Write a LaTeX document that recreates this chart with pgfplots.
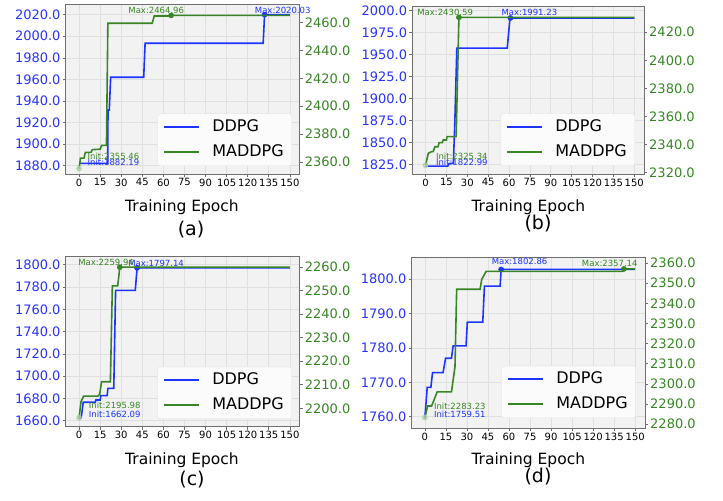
\documentclass[border=0pt]{standalone}
\usepackage{fontspec}
\setmainfont{DejaVu Sans}
\usepackage{pgfplots}
\pgfplotsset{compat=1.18}
\definecolor{ddpg}{RGB}{28,52,255}
\definecolor{madd}{RGB}{55,133,36}
\definecolor{tickblue}{RGB}{40,50,255}
\definecolor{frame}{RGB}{110,110,110}
\pgfplotsset{
  common/.style={scale only axis, xmin=-9.5, xmax=157, clip=false,
    /pgf/number format/assume math mode=true,
    tick align=outside, major tick length=3bp,
    tick style={frame, line width=0.6bp},
    axis line style={frame, line width=0.8bp},
    yticklabel style={font=\fontsize{13bp}{15bp}\selectfont, inner sep=2bp,
      /pgf/number format/fixed, /pgf/number format/fixed zerofill,
      /pgf/number format/precision=1, /pgf/number format/1000 sep={}},
  },
  leftax/.style={common, axis background/.style={fill=gray!10},
    xtick={0,15,...,150}, xtick pos=left, ytick pos=left,
    grid=major, grid style={gray!25, line width=0.6bp},
    xticklabel style={font=\fontsize{10bp}{12bp}\selectfont, inner sep=1.5bp},
    yticklabel style={text=tickblue},
  },
  rightax/.style={common, axis x line=none, axis y line*=right,
    yticklabel style={text=madd},
    legend cell align=left,
    legend image code/.code={\draw[##1, line width=1.8bp] (0bp,0bp) -- (35bp,0bp);},
    legend style={font=\fontsize{16bp}{19bp}\selectfont, draw=gray!25, rounded corners=2.5bp,
      fill=white!97!gray, inner xsep=6bp, inner ysep=4bp,
      row sep=6bp, nodes={inner sep=2bp, text height=12bp, text depth=3bp},
      /tikz/every odd column/.append style={column sep=10bp}},
  },
  bl/.style={ddpg, line width=1.6bp},
  gl/.style={madd, line width=1.6bp},
  mx/.style={only marks, mark=*, mark size=2.6bp, forget plot},
}
\newcommand{\ann}{\fontsize{8.5bp}{10bp}\selectfont}
\begin{document}
\begin{tikzpicture}[x=1bp,y=1bp]
\path[use as bounding box] (0,0) rectangle (723,501);
% ---------------- (a)
\begin{axis}[leftax, at={(65.7bp,327bp)}, anchor=south west, width=234bp, height=170bp,
  ymin=1872.3, ymax=2029.9, ytick={1880,1900,...,2020}]
\addplot[bl] coordinates {(0,1882.19) (20.4,1882.19) (20.6,1931.6) (21.5,1931.6) (22.5,1962) (46,1962) (47,1993.5) (131,1993.5) (132,2020.03) (150,2020.03)};
\addplot[mx, ddpg] coordinates {(132,2020.03)};
\node[anchor=west, inner sep=0, text=ddpg, font=\ann] at (axis cs:6,1883) {Init:1882.19};
\node[anchor=west, inner sep=0, text=ddpg, font=\ann] at (axis cs:125,2024.3) {Max:2020.03};
\end{axis}
\begin{axis}[rightax, at={(65.7bp,327bp)}, anchor=south west, width=234bp, height=170bp,
  ymin=2351.6, ymax=2473.1, ytick={2360,2380,...,2460},
  legend style={at={(0.967,0.047)}, anchor=south east}]
\addlegendimage{bl}\addlegendentry{DDPG}
\addplot[gl] coordinates {(0,2355.46) (1,2362.9) (3.5,2363) (4.5,2367) (8.5,2367) (9.5,2369) (15,2369.3) (16,2372) (19.5,2372) (20.5,2459.3) (52,2459.3) (53.5,2464.5) (65,2464.5) (65.5,2464.96) (150,2464.96)};
\addlegendentry{MADDPG}
\addplot[mx, madd] coordinates {(65.5,2464.96)};
\addplot[mx, madd!40, opacity=0.8] coordinates {(0,2355.46)};
\node[anchor=west, inner sep=0, text=madd, font=\ann] at (axis cs:6,2364) {Init:2355.46};
\node[anchor=west, inner sep=0, text=madd, font=\ann] at (axis cs:35,2468.8) {Max:2464.96};
\end{axis}
\node[font=\fontsize{15.5bp}{18bp}\selectfont] at (182,294) {Training Epoch};
\node[font=\fontsize{19bp}{22bp}\selectfont] at (191,271) {(a)};
% ---------------- (b)
\begin{axis}[leftax, at={(412.3bp,327bp)}, anchor=south west, width=231.7bp, height=168bp,
  ymin=1814, ymax=2004.9, ytick={1825,1850,...,2000}]
\addplot[bl] coordinates {(0,1822.99) (16,1822.99) (17,1826) (20,1826) (21,1870) (22.5,1957) (58.7,1957) (60.7,1991.23) (150,1991.23)};
\addplot[mx, ddpg] coordinates {(61,1991.23)};
\node[anchor=west, inner sep=0, text=ddpg, font=\ann] at (axis cs:7.4,1827.3) {Init:1822.99};
\node[anchor=west, inner sep=0, text=ddpg, font=\ann] at (axis cs:54.5,1997.3) {Max:1991.23};
\end{axis}
\begin{axis}[rightax, at={(412.3bp,327bp)}, anchor=south west, width=231.7bp, height=168bp,
  ymin=2319.1, ymax=2438.7, ytick={2320,2340,...,2420},
  legend style={at={(0.961,0.048)}, anchor=south east}]
\addlegendimage{bl}\addlegendentry{DDPG}
\addplot[gl] coordinates {(0,2325.34) (2,2333.8) (4.3,2335) (5.5,2335) (6.7,2338.5) (9,2338.5) (9.8,2341.4) (12,2341.4) (12.7,2343.3) (15,2343.3) (15.5,2345.7) (22,2345.7) (24,2430.59) (150,2430.59)};
\addlegendentry{MADDPG}
\addplot[mx, madd] coordinates {(24,2430.59)};
\addplot[mx, madd!40, opacity=0.8] coordinates {(0,2325.34)};
\node[anchor=west, inner sep=0, text=madd, font=\ann] at (axis cs:7.4,2331.4) {Init:2325.34};
\node[anchor=west, inner sep=0, text=madd, font=\ann] at (axis cs:-6,2434) {Max:2430.59};
\end{axis}
\node[font=\fontsize{15.5bp}{18bp}\selectfont] at (528.3,294) {Training Epoch};
\node[font=\fontsize{19bp}{22bp}\selectfont] at (538,277) {(b)};
% ---------------- (c)
\begin{axis}[leftax, at={(65.7bp,74.3bp)}, anchor=south west, width=234bp, height=170bp,
  ymin=1654.6, ymax=1807.2, ytick={1660,1680,...,1800}]
\addplot[bl] coordinates {(0,1662.09) (1.5,1662.5) (3,1676.5) (11.6,1676.5) (12,1678.6) (15,1678.6) (15.5,1682.5) (20,1682.5) (20.5,1689) (24.7,1689) (26,1777) (40,1777) (41.3,1797.14) (150,1797.14)};
\addplot[mx, ddpg] coordinates {(41.3,1797.14)};
\node[anchor=west, inner sep=0, text=ddpg, font=\ann] at (axis cs:6.9,1666) {Init:1662.09};
\node[anchor=west, inner sep=0, text=ddpg, font=\ann] at (axis cs:34.9,1801.5) {Max:1797.14};
\end{axis}
\begin{axis}[rightax, at={(65.7bp,74.3bp)}, anchor=south west, width=234bp, height=170bp,
  ymin=2192.2, ymax=2264.4, ytick={2200,2210,...,2260},
  legend style={at={(0.967,0.045)}, anchor=south east}]
\addlegendimage{bl}\addlegendentry{DDPG}
\addplot[gl] coordinates {(0,2195.98) (1.4,2202.8) (3.3,2205.2) (13.5,2205.2) (14.7,2206) (16,2211.3) (22.3,2211.3) (23.7,2252) (27.5,2252) (29,2259.94) (150,2259.94)};
\addlegendentry{MADDPG}
\addplot[mx, madd] coordinates {(29,2259.94)};
\addplot[mx, madd!40, opacity=0.8] coordinates {(0,2195.98)};
\node[anchor=west, inner sep=0, text=madd, font=\ann] at (axis cs:6.9,2201.1) {Init:2195.98};
\node[anchor=west, inner sep=0, text=madd, font=\ann] at (axis cs:-0.7,2262.1) {Max:2259.94};
\end{axis}
\node[font=\fontsize{15.5bp}{18bp}\selectfont] at (182,41) {Training Epoch};
\node[font=\fontsize{19bp}{22bp}\selectfont] at (192,21) {(c)};
% ---------------- (d)
\begin{axis}[leftax, at={(411.5bp,72.7bp)}, anchor=south west, width=233.5bp, height=171bp,
  ymin=1756.6, ymax=1806.4, ytick={1760,1770,...,1800}]
\addplot[bl] coordinates {(0,1759.51) (1.7,1768.5) (4.3,1768.5) (5.5,1772.8) (13,1772.8) (14.8,1777) (19,1777) (20.2,1780.6) (29.4,1780.6) (30.3,1787.5) (41.3,1787.5) (42.5,1798) (53.7,1798) (54.4,1802.86) (150,1802.86)};
\addplot[mx, ddpg] coordinates {(54.4,1802.86)};
\node[anchor=west, inner sep=0, text=ddpg, font=\ann] at (axis cs:6.4,1760.7) {Init:1759.51};
\node[anchor=west, inner sep=0, text=ddpg, font=\ann] at (axis cs:47.6,1805.1) {Max:1802.86};
\end{axis}
\begin{axis}[rightax, at={(411.5bp,72.7bp)}, anchor=south west, width=233.5bp, height=171bp,
  ymin=2277.9, ymax=2362.9, ytick={2280,2290,...,2360},
  legend style={at={(0.961,0.06)}, anchor=south east}]
\addlegendimage{bl}\addlegendentry{DDPG}
\addplot[gl] coordinates {(0,2283.23) (2,2289) (4.8,2289) (6,2291) (8.8,2296) (19,2296) (21.5,2308.5) (22.7,2347) (39.4,2347) (40.6,2352) (43.7,2355.9) (140.9,2355.9) (142,2357.14) (150,2357.14)};
\addlegendentry{MADDPG}
\addplot[mx, madd] coordinates {(142,2357.14)};
\addplot[mx, madd!40, opacity=0.8] coordinates {(0,2283.23)};
\node[anchor=west, inner sep=0, text=madd, font=\ann] at (axis cs:6.4,2288.6) {Init:2283.23};
\node[anchor=west, inner sep=0, text=madd, font=\ann] at (axis cs:111.9,2360) {Max:2357.14};
\end{axis}
\node[font=\fontsize{15.5bp}{18bp}\selectfont] at (528.3,41) {Training Epoch};
\node[font=\fontsize{19bp}{22bp}\selectfont] at (538,24) {(d)};
\end{tikzpicture}
\end{document}
